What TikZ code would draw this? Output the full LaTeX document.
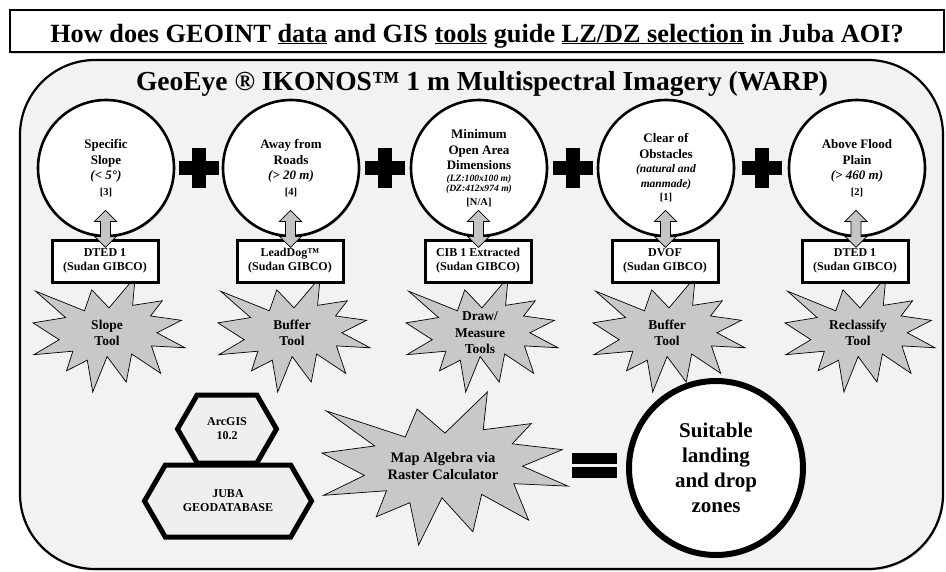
\documentclass[tikz,border=0pt]{standalone}
\usepackage{fontspec}
\setmainfont{Liberation Serif}
\usetikzlibrary{shapes.symbols,shadows,calc}

\definecolor{panelgray}{HTML}{F2F2F2}
\definecolor{burstgray}{HTML}{C8C8C8}
\definecolor{arrowgray}{HTML}{C4C4C4}
\definecolor{hexgray}{HTML}{EFEFEF}

\newcommand{\critnote}[1]{{\itshape #1}}
\newcommand{\critref}[1]{{\fontsize{10.5}{12}\selectfont #1}}
\newcommand{\toolburst}[3]{%
  \draw[burstline, shift={#1}, xscale=#2/216, yscale=#3/216]
    (108,58) -- (145.22,0) -- (141.55,53.25) -- (183.8,44.57) -- (167.02,73.15)
    -- (210.97,81.37) -- (176.07,104.75) -- (216,132.9) -- (168.37,129.42)
    -- (181.45,180.95) -- (140.2,144.57) -- (132.47,197.37) -- (105.32,149.35)
    -- (84.85,216) -- (77.15,156.27) -- (47.62,176.17) -- (56.67,139.37)
    -- (1.35,145.87) -- (37.22,117.75) -- (0,86.15) -- (46.27,76.17)
    -- (3.7,26.67) -- (73.12,63.52) -- (83.52,24.1) -- cycle;}
\newcommand{\dblblock}[1]{%
  \draw[blockarrow, shift={#1}] (0,-18.5) -- (11,-7.5) -- (5,-7.5) -- (5,7.5) -- (11,7.5)
    -- (0,18.5) -- (-11,7.5) -- (-5,7.5) -- (-5,-7.5) -- (-11,-7.5) -- cycle;}
\newcommand{\plussign}[2]{%
  \fill (#1-20,#2-7) rectangle (#1+20,#2+7);
  \fill (#1-7,#2-20) rectangle (#1+7,#2+20);}

\tikzset{
  softshadow/.style={drop shadow={opacity=0.3,shadow xshift=1.2pt,shadow yshift=-1.6pt}},
  titlebox/.style={draw, line width=2.6pt, fill=white, softshadow, minimum width=934pt,
    minimum height=42pt, inner sep=0pt, text height=24pt, text depth=2pt,
    font=\bfseries\fontsize{26.3}{30}\selectfont},
  panel/.style={draw, line width=2.2pt, fill=panelgray, rounded corners=75pt, softshadow},
  subtitle/.style={anchor=base, font=\bfseries\fontsize{27.5}{30}\selectfont},
  critcircle/.style={circle, draw, line width=2.6pt, fill=white, softshadow, minimum size=136pt,
    inner sep=0pt, align=center, font=\bfseries\fontsize{13}{15.5}\selectfont},
  srcbox/.style={draw, line width=3pt, fill=white, softshadow, minimum width=106pt,
    minimum height=42pt, inner sep=0pt, align=center, font=\bfseries\fontsize{12}{14}\selectfont},
  burstline/.style={draw, line width=0.7pt, fill=burstgray, line join=miter},
  tooltext/.style={align=center, font=\bfseries\fontsize{13.5}{16.5}\selectfont},
  blockarrow/.style={draw, line width=0.8pt, fill=arrowgray, line join=miter},
  hexnode/.style={signal, signal to=east and west, signal pointer angle=120, draw, line width=5pt,
    fill=hexgray, softshadow, inner sep=0pt, align=center, font=\bfseries\fontsize{12}{14}\selectfont},
  goalcircle/.style={circle, draw, line width=6pt, fill=white, softshadow, minimum size=174pt,
    inner sep=0pt, align=center, font=\bfseries\fontsize{21}{25}\selectfont}
}

\begin{document}
\begin{tikzpicture}[x=1pt,y=-1pt]
  \useasboundingbox[fill=white] (0,0) rectangle (946,571);
  \node[titlebox] (title) at (477,31) {How does GEOINT \underline{data} and GIS \underline{tools} guide \underline{LZ/DZ selection} in Juba AOI?};
  \draw[panel] (20,60) rectangle (943,569);
  \node[subtitle] (sub) at (482,90) {GeoEye ® IKONOS™ 1 m Multispectral Imagery (WARP)};

  \node[critcircle] (c1) at (106,168) {Specific\\Slope\\\critnote{(< 5°)}\\\critref{[3]}};
  \node[critcircle] (c2) at (291,168) {Away from\\Roads\\\critnote{(> 20 m)}\\\critref{[4]}};
  \node[critcircle] (c3) at (479,168) {Minimum\\Open Area\\Dimensions\\[-4pt]{\fontsize{9.6}{11}\selectfont\itshape (LZ:100x100 m)}\\[-5pt]{\fontsize{9.6}{11}\selectfont\itshape (DZ:412x974 m)}\\[-2pt]\critref{[N/A]}};
  \node[critcircle] (c4) at (666,168) {Clear of\\Obstacles\\[-1pt]\critnote{\fontsize{11.5}{14}\selectfont (natural and}\\[-1pt]\critnote{\fontsize{11.5}{14}\selectfont manmade)}\\[-2pt]\critref{[1]}};
  \node[critcircle] (c5) at (857,168) {Above Flood\\Plain\\\critnote{(> 460 m)}\\\critref{[2]}};

  \plussign{198.5}{168}
  \plussign{385}{168}
  \plussign{572.5}{168}
  \plussign{761.5}{168}

  \toolburst{(33,277)}{152}{115}
  \toolburst{(218,277)}{152}{115}
  \toolburst{(406,277)}{152}{115}
  \toolburst{(593,277)}{152}{115}
  \toolburst{(785,277)}{150}{115}
  \node[tooltext] (t1) at (107,333) {Slope\\Tool};
  \node[tooltext] (t2) at (292,333) {Buffer\\Tool};
  \node[tooltext] (t3) at (480,333) {Draw/\\Measure\\Tools};
  \node[tooltext] (t4) at (667,333) {Buffer\\Tool};
  \node[tooltext] (t5) at (858,333) {Reclassify\\Tool};

  \node[srcbox] (b1) at (105,261) {DTED 1\\(Sudan GIBCO)};
  \node[srcbox] (b2) at (290,261) {LeadDog™\\(Sudan GIBCO)};
  \node[srcbox] (b3) at (478,261) {CIB 1 Extracted\\(Sudan GIBCO)};
  \node[srcbox] (b4) at (665,261) {DVOF\\(Sudan GIBCO)};
  \node[srcbox] (b5) at (855,261) {DTED 1\\(Sudan GIBCO)};

  \dblblock{($(c1.south)!0.5!(b1.north)+(0,-9)$)}
  \dblblock{($(c2.south)!0.5!(b2.north)+(0,-9)$)}
  \dblblock{($(c3.south)!0.5!(b3.north)+(0,-9)$)}
  \dblblock{($(c4.south)!0.5!(b4.north)+(0,-9)$)}
  \dblblock{($(c5.south)!0.5!(b5.north)+(0,-9)$)}

  \node[hexnode, minimum width=99pt, minimum height=68pt] (arc) at (227,429) {ArcGIS\\10.2};
  \node[hexnode, minimum width=167pt, minimum height=72pt] (gdb) at (228,501) {JUBA\\GEODATABASE};

  \toolburst{(322,392)}{246}{153}
  \node[tooltext, font=\bfseries\fontsize{14.5}{17}\selectfont] (alg) at (443,466) {Map Algebra via\\Raster Calculator};

  \fill (572,453) rectangle (617,464);
  \fill (572,467) rectangle (617,478);

  \node[goalcircle] (goal) at (716,468) {Suitable\\landing\\and drop\\zones};
\end{tikzpicture}
\end{document}
